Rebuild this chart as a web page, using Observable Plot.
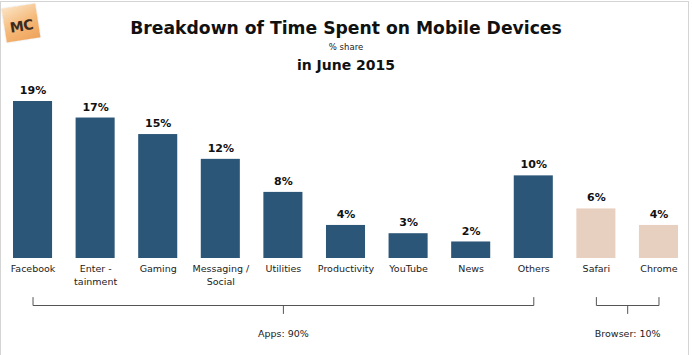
<!DOCTYPE html>
<html>
<head>
<meta charset="utf-8">
<script src="https://cdn.jsdelivr.net/npm/d3@7"></script>
<script src="https://cdn.jsdelivr.net/npm/@observablehq/plot@0.6"></script>
<style>
  html, body { margin: 0; padding: 0; background: #fff; }
  body { width: 692px; height: 355px; overflow: hidden; position: relative; font-family: "DejaVu Sans", Verdana, sans-serif; }
  #frame { position: absolute; left: 0; top: 1px; width: 689px; height: 400px; border: 1px solid #d4d4d4; box-sizing: border-box; pointer-events: none; }
  #header { position: relative; height: 80px; }
  #logo { position: absolute; left: 4px; top: 6px; width: 34px; height: 34px; transform: rotate(-9deg);
          background: linear-gradient(160deg, #fbe3c4 0%, #f5b877 55%, #eea35c 100%); box-shadow: 0 0 2px rgba(0,0,0,0.15); }
  #logo span { position: absolute; left: 0; right: 0; top: 12px; text-align: center; font-weight: bold; font-size: 14px; color: #3a2a20; letter-spacing: -0.5px; font-family: "DejaVu Sans", sans-serif; }
  #title { position: absolute; left: 0; width: 692px; top: 18px; line-height: 20px; text-align: center; font-weight: bold; font-size: 17.2px; color: #111; }
  #sub { position: absolute; left: 0; width: 692px; top: 41px; line-height: 12px; text-align: center; font-size: 8.5px; color: #222; }
  #date { position: absolute; left: 0; width: 692px; top: 57px; line-height: 16px; text-align: center; font-weight: bold; font-size: 14px; color: #111; }
  #chart svg { display: block; }
</style>
</head>
<body>
<div id="frame"></div>
<div id="header">
  <div id="logo"><span>MC</span></div>
  <div id="title">Breakdown of Time Spent on Mobile Devices</div>
  <div id="sub">% share</div>
  <div id="date">in June 2015</div>
</div>
<div id="chart"></div>
<script>
// ---- data ----
const categories = ["Facebook", "Enter -\ntainment", "Gaming", "Messaging /\nSocial", "Utilities", "Productivity", "YouTube", "News", "Others", "Safari", "Chrome"];
const shares = [19, 17, 15, 12, 8, 4, 3, 2, 10, 6, 4];
const kinds = ["App", "App", "App", "App", "App", "App", "App", "App", "App", "Browser", "Browser"];
const groupLabels = ["Apps: 90%", "Browser: 10%"];
const groupFirst = ["Facebook", "Safari"];
const groupLast = ["Others", "Chrome"];

// ---- build ----
const rows = categories.map((c, i) => ({i, cat: c, value: shares[i], kind: kinds[i]}));
const halfBar = 0.312;
const H = 275, mTop = 21, mBottom = 97;
const yMax = 19;
const unitPerPx = yMax / (H - mTop - mBottom);
const idx = name => categories.indexOf(name);

const groups = groupLabels.map((g, k) => {
  const s = idx(groupFirst[k]), e = idx(groupLast[k]);
  return {label: g, s, e, m: (s + e) / 2};
});
const bracketPts = [];
const tickPts = [];
for (const g of groups) {
  const yTop = -39 * unitPerPx, yBot = -47 * unitPerPx, yTick = -55 * unitPerPx;
  bracketPts.push({g: g.label, x: g.s, y: yTop}, {g: g.label, x: g.s, y: yBot}, {g: g.label, x: g.e, y: yBot}, {g: g.label, x: g.e, y: yTop});
  tickPts.push({g: g.label, x: g.m, y: yBot}, {g: g.label, x: g.m, y: yTick});
}

const chart = Plot.plot({
  width: 692,
  height: H,
  marginTop: mTop,
  marginBottom: mBottom,
  marginLeft: 13,
  marginRight: 14,
  style: {fontFamily: "DejaVu Sans, Verdana, sans-serif", background: "transparent", overflow: "visible"},
  x: {domain: [-halfBar, categories.length - 1 + halfBar], axis: null},
  y: {domain: [0, yMax], axis: null},
  color: {domain: ["App", "Browser"], range: ["#2c5678", "#e8d0c1"]},
  marks: [
    Plot.rectY(rows, {x1: d => d.i - halfBar, x2: d => d.i + halfBar, y1: 0, y2: "value", fill: "kind"}),
    Plot.text(rows, {x: "i", y: "value", text: d => d.value + "%", dy: -11, fontWeight: "bold", fontSize: 11, fill: "#111"}),
    Plot.text(rows, {x: "i", y: 0, text: "cat", lineAnchor: "top", dy: 5, fontSize: 9.5, fill: "#222", lineHeight: 1.3}),
    Plot.line(bracketPts, {x: "x", y: "y", z: "g", stroke: "#555", strokeWidth: 1}),
    Plot.line(tickPts, {x: "x", y: "y", z: "g", stroke: "#555", strokeWidth: 1}),
    Plot.text(groups, {x: "m", y: 0, text: "label", dy: 75, fontSize: 9.5, fill: "#222"})
  ]
});
document.getElementById("chart").append(chart);
</script>
</body>
</html>
